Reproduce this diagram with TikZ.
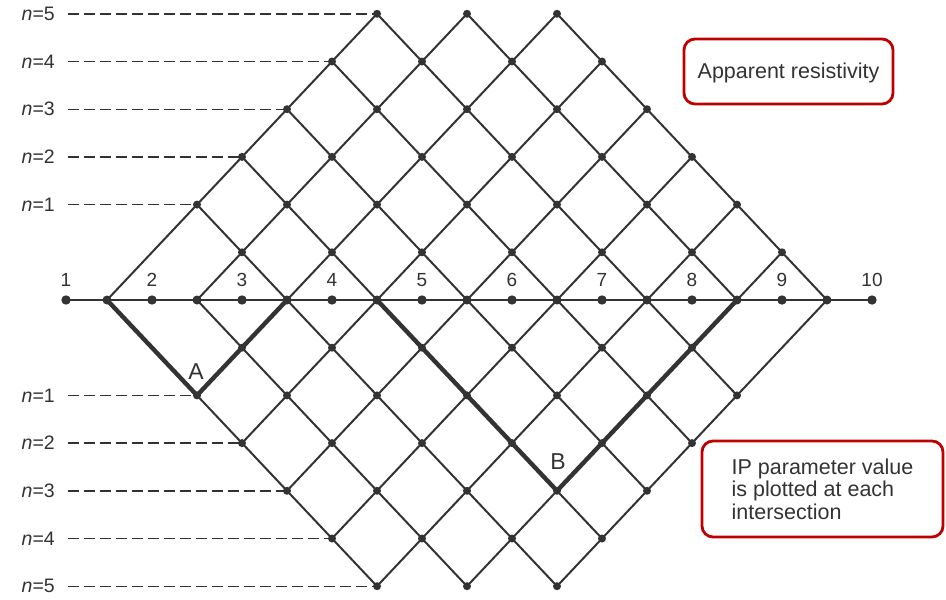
\documentclass[tikz,border=0pt]{standalone}
\usepackage{fontspec}
\setmainfont{Liberation Sans}
\definecolor{ink}{HTML}{333333}
\definecolor{boxred}{HTML}{C00000}
\tikzset{
  gridline/.style={draw=ink, line width=2pt},
  thickline/.style={draw=ink, line width=4.4pt, line cap=round, line join=round},
  mainline/.style={draw=ink, line width=2.8pt},
  dashline/.style={draw=ink, line width=1.4pt, dash pattern=on 11pt off 5pt},
  latdot/.style={fill=ink, draw=none},
  nlabel/.style={text=ink, font=\fontsize{19.5}{22}\selectfont, inner sep=0pt},
  elabel/.style={text=ink, font=\fontsize{19}{21}\selectfont, inner sep=0pt},
  letter/.style={text=ink, font=\fontsize{23}{26}\selectfont, inner sep=0pt},
  redbox/.style={draw=boxred, line width=2.8pt, rounded corners=11pt, fill=white},
  boxtext/.style={text=ink, font=\fontsize{21.5}{22.5}\selectfont, align=left, inner sep=0pt}
}
\begin{document}
\begin{tikzpicture}[x=1pt,y=-1pt]
\useasboundingbox (0,0) rectangle (946,600);
\fill[white] (0,0) rectangle (946,600);

% lattice coordinates
\foreach \a in {0,...,16}{
  \foreach \r in {-6,...,6}{
    \coordinate (v\a r\r) at ({107+45*\a},{300-47.7*\r});
  }
}
% electrodes
\coordinate (e1) at (66,300);
\foreach \i in {2,...,10}{
  \coordinate (e\i) at ({152+90*(\i-2)},300);
}

% upper "/" lines
\foreach \k in {0,...,7}{
  \pgfmathtruncatemacro{\s}{2*\k}
  \pgfmathtruncatemacro{\e}{min(6,8-\k)}
  \pgfmathtruncatemacro{\ea}{2*\k+\e}
  \draw[gridline] (v\s r0) -- (v\ea r\e);
}
% upper "\" lines
\foreach \k in {2,...,8}{
  \pgfmathtruncatemacro{\s}{2*\k}
  \pgfmathtruncatemacro{\e}{min(6,\k)}
  \pgfmathtruncatemacro{\ea}{2*\k-\e}
  \draw[gridline] (v\s r0) -- (v\ea r\e);
}
% lower "\" lines (down-right)
\foreach \k in {0,...,6}{
  \pgfmathtruncatemacro{\s}{2*\k}
  \pgfmathtruncatemacro{\e}{min(6,8-\k)}
  \pgfmathtruncatemacro{\ea}{2*\k+\e}
  \draw[gridline] (v\s r0) -- (v\ea r-\e);
}
% lower "/" lines (down-left)
\foreach \k in {2,...,8}{
  \pgfmathtruncatemacro{\s}{2*\k}
  \pgfmathtruncatemacro{\e}{min(6,\k)}
  \pgfmathtruncatemacro{\ea}{2*\k-\e}
  \draw[gridline] (v\s r0) -- (v\ea r-\e);
}

% main electrode line
\draw[mainline] (e1) -- (e10);

% thick paths A and B
\draw[thickline] (v0r0) -- (v2r-2) -- (v4r0);
\draw[thickline] (v6r0) -- (v10r-4) -- (v14r0);

% dots on lattice
\foreach \r in {1,...,6}{
  \pgfmathtruncatemacro{\lo}{\r}
  \pgfmathtruncatemacro{\lonext}{\r+2}
  \pgfmathtruncatemacro{\hi}{16-\r}
  \foreach \a in {\lo,\lonext,...,\hi}{
    \ifnum\a=1\relax\else
      \fill[latdot] (v\a r\r) circle (4pt);
    \fi
    \ifnum\r=1\relax
      \ifnum\a=1\relax\else\ifnum\a=15\relax\else
        \fill[latdot] (v\a r-\r) circle (4pt);
      \fi\fi
    \else
      \fill[latdot] (v\a r-\r) circle (4pt);
    \fi
  }
}
\foreach \a in {0,2,...,16}{
  \fill[latdot] (v\a r0) circle (4.5pt);
}
\foreach \i in {1,...,10}{
  \fill[latdot] (e\i) circle (4.7pt);
  \node[elabel] (le\i) at ([yshift=20pt]e\i) {\i};
}

% n labels and dashed leaders
\foreach \n in {1,...,5}{
  \pgfmathtruncatemacro{\r}{\n+1}
  \node[nlabel, anchor=east] (nu\n) at (55,{300-47.7*\r}) {\textit{n}=\n};
  \node[nlabel, anchor=east] (nd\n) at (55,{300+47.7*\r}) {\textit{n}=\n};
  \draw[dashline] ([xshift=13pt]nu\n.east) -- (v\r r\r);
  \draw[dashline] ([xshift=13pt]nd\n.east) -- (v\r r-\r);
}

% letters
\node[letter] (la) at (196,372) {A};
\node[letter] (lb) at (558,462) {B};

% annotation boxes
\node[redbox, minimum width=209pt, minimum height=65pt] (boxr) at (788.5,71.5) {};
\node[boxtext] (tr) at ([yshift=-1pt]boxr.center) {Apparent resistivity};
\node[redbox, minimum width=241pt, minimum height=96pt] (boxip) at (822.5,489) {};
\node[boxtext] (tip) at (boxip.center) {IP parameter value\\is plotted at each\\intersection};
\end{tikzpicture}
\end{document}
